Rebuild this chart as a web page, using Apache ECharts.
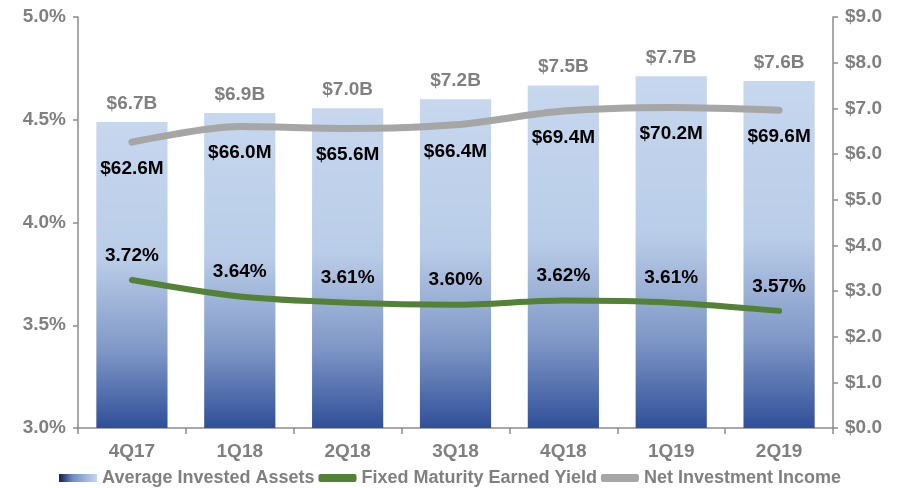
<!DOCTYPE html>
<html>
<head>
<meta charset="utf-8">
<script src="https://cdn.jsdelivr.net/npm/echarts@6/dist/echarts.min.js"></script>
<style>
  html, body { margin: 0; padding: 0; background: #fff; }
  #chart { width: 900px; height: 488px; }
</style>
</head>
<body>
<div id="chart"></div>
<script>
// quarters on the x axis
const quarters = ['4Q17', '1Q18', '2Q18', '3Q18', '4Q18', '1Q19', '2Q19'];
// average invested assets, $B (right axis)
const investedAssets = [6.7, 6.9, 7.0, 7.2, 7.5, 7.7, 7.6];
// fixed maturity earned yield, % (left axis)
const earnedYield = [3.72, 3.64, 3.61, 3.60, 3.62, 3.61, 3.57];
// net investment income, $M (hidden axis, 0-90)
const netIncome = [62.6, 66.0, 65.6, 66.4, 69.4, 70.2, 69.6];

const gray = '#808080';
const font = 'Liberation Sans, Arial, sans-serif';

const barGradient = new echarts.graphic.LinearGradient(0, 0, 0, 1, [
  { offset: 0, color: '#c6d7ee' },
  { offset: 0.45, color: '#bacde8' },
  { offset: 0.75, color: '#7f97c6' },
  { offset: 1, color: '#2f4f98' }
]);

const chart = echarts.init(document.getElementById('chart'), null, { renderer: 'canvas' });

const axisCommon = {
  axisLine: { show: true, lineStyle: { color: '#8c8c8c', width: 1.5 } },
  axisTick: { show: true, length: 5, lineStyle: { color: '#8c8c8c', width: 1.5 } },
  splitLine: { show: false },
  axisLabel: { color: gray, fontSize: 19, fontWeight: 'bold', fontFamily: font }
};

const lineLabel = {
  show: true, color: '#000', fontSize: 19, fontWeight: 'bold', fontFamily: font
};

chart.setOption({
  animation: false,
  textStyle: { fontFamily: font },
  grid: { left: 78, right: 67, top: 17, bottom: 60, containLabel: false },
  legend: {
    top: 464,
    left: 'center',
    itemGap: 4,
    itemWidth: 38,
    itemHeight: 8,
    textStyle: { color: gray, fontSize: 18, fontWeight: 'bold', fontFamily: font },
    data: [
      { name: 'Average Invested Assets', icon: 'rect',
        itemStyle: { color: new echarts.graphic.LinearGradient(0, 0, 1, 0, [
          { offset: 0, color: '#0d1f4d' }, { offset: 0.35, color: '#6f8bc0' }, { offset: 1, color: '#c6d7ee' }]) } },
      { name: 'Fixed Maturity Earned Yield', icon: 'roundRect' },
      { name: 'Net Investment Income', icon: 'roundRect' }
    ]
  },
  xAxis: {
    type: 'category',
    data: quarters,
    boundaryGap: true,
    ...axisCommon,
    axisTick: { show: true, length: 6, lineStyle: { color: '#8c8c8c', width: 1.5 } },
    axisLabel: { ...axisCommon.axisLabel, margin: 14 }
  },
  yAxis: [
    {
      type: 'value', position: 'left', min: 3.0, max: 5.0, interval: 0.5,
      ...axisCommon,
      axisLabel: { ...axisCommon.axisLabel, margin: 12, formatter: v => v.toFixed(1) + '%' }
    },
    {
      type: 'value', position: 'right', min: 0, max: 9, interval: 1,
      ...axisCommon,
      axisLabel: { ...axisCommon.axisLabel, margin: 12, formatter: v => '$' + v.toFixed(1) }
    },
    { type: 'value', min: 0, max: 90, show: false }
  ],
  series: [
    {
      name: 'Average Invested Assets',
      type: 'bar',
      yAxisIndex: 1,
      data: investedAssets,
      barWidth: '66%',
      itemStyle: { color: barGradient },
      label: {
        show: true, position: 'top', distance: 9,
        color: gray, fontSize: 19, fontWeight: 'bold', fontFamily: font,
        formatter: p => '$' + p.value.toFixed(1) + 'B'
      },
      z: 1
    },
    {
      name: 'Fixed Maturity Earned Yield',
      type: 'line',
      yAxisIndex: 0,
      data: earnedYield,
      smooth: 0.3,
      symbol: 'circle',
      symbolSize: 0,
      showSymbol: true,
      lineStyle: { color: '#538135', width: 6, cap: 'round' },
      itemStyle: { color: '#538135' },
      label: { ...lineLabel, position: 'top', distance: 15, formatter: p => p.value.toFixed(2) + '%' },
      labelLayout: { hideOverlap: false },
      z: 3
    },
    {
      name: 'Net Investment Income',
      type: 'line',
      yAxisIndex: 2,
      data: netIncome,
      smooth: 0.3,
      symbol: 'circle',
      symbolSize: 0,
      showSymbol: true,
      lineStyle: { color: '#a6a6a6', width: 7, cap: 'round' },
      itemStyle: { color: '#a6a6a6' },
      label: { ...lineLabel, position: 'bottom', distance: 17, formatter: p => '$' + p.value.toFixed(1) + 'M' },
      labelLayout: { hideOverlap: false },
      z: 3
    }
  ]
});
</script>
</body>
</html>
